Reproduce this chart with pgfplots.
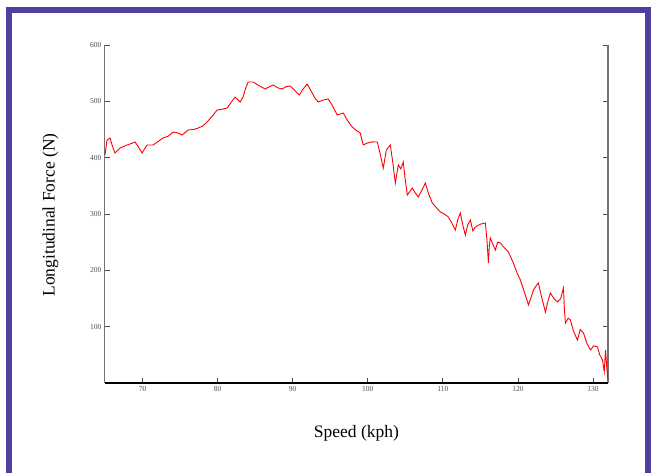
\documentclass[border=0pt]{standalone}
\usepackage{pgfplots}
\pgfplotsset{compat=1.18}
\usepackage{fontspec}
\setmainfont{Liberation Serif}
\definecolor{frame}{HTML}{4F3F9F}
\begin{document}
\begin{tikzpicture}[x=1pt,y=1pt]
\path (0,0) rectangle (654,468);
\fill[white] (0,0) rectangle (654,468);
% frame
\draw[frame,line width=6pt] (8.5,-5) -- (8.5,458) -- (648,458) -- (648,-5);
\begin{axis}[
  at={(105pt,85pt)}, anchor=south west,
  width=503pt, height=338pt, scale only axis,
  xmin=65, xmax=132, ymin=0, ymax=600,
  xtick={70,80,90,100,110,120,130},
  ytick={100,200,300,400,500,600},
  xtick pos=bottom,
  axis line style={draw=none},
  tick align=inside,
  major tick length=5pt,
  tick style={black!70, line width=0.8pt},
  ticklabel style={font=\fontsize{7.5}{8}\selectfont, text=black!70},
  /pgf/number format/assume math mode=true,
  xlabel={Speed (kph)},
  ylabel={Longitudinal Force (N)},
  label style={font=\fontsize{17.5}{20}\selectfont},
  xlabel style={yshift=-27pt},
  ylabel style={yshift=25pt, xshift=-1pt},
  clip=false,
]
\draw[black!55, line width=1pt] (rel axis cs:0,1) -- (rel axis cs:0,0);
\draw[black!55, line width=1.5pt] (rel axis cs:1,1) -- (rel axis cs:1,0);
\draw[black, line width=1.5pt] (rel axis cs:0,0) -- (rel axis cs:1,0);
\addplot[red, line width=0.9pt] coordinates {
(65.0,404.7) (65.27,431.3) (65.67,434.9) (66.0,420) (66.33,408.3) (67.0,417.1)
(67.93,422.5) (68.5,425) (69.0,427.8) (69.5,418) (69.93,408.3) (70.6,422.5) (71.4,422.5)
(72.0,428) (72.73,434.9) (73.4,438) (74.07,445.5) (74.7,444) (75.27,440.2) (76.07,449.1)
(76.8,450) (77.4,452.6) (78.0,456) (78.6,463.3) (79.3,474) (79.93,484.6) (80.6,486)
(81.27,488.1) (81.8,498) (82.33,507.7) (83.0,498.8) (83.4,507.7) (83.7,522) (84.07,534.3)
(84.73,534.3) (85.5,528) (86.33,521.9) (86.9,526) (87.4,529.0) (88.0,524) (88.6,521.9)
(89.1,526) (89.67,527.2) (90.3,519) (90.87,511.2) (91.4,522) (91.93,530.7) (92.6,514.8)
(93.0,505) (93.4,498.8) (94.0,502) (94.73,504.2) (95.3,492) (95.93,475.7) (96.73,479.3)
(97.3,466) (97.93,454.4) (98.5,448) (99.0,443.8) (99.4,422.5) (99.93,426.0)
(100.6,428) (101.27,427.8) (101.6,410) (102.07,381.6) (102.47,413.6) (103.0,422.5)
(103.3,395) (103.67,355.0) (104.07,387.0) (104.4,380) (104.73,392.3) (105.0,360)
(105.27,333.7) (105.93,346.1) (106.3,338) (106.73,330.2) (107.2,342) (107.67,355.0)
(108.1,336) (108.6,319.5) (109.1,312) (109.67,303.5) (110.2,300) (110.73,294.7)
(111.2,284) (111.67,271.6) (112.0,290) (112.33,301.8) (112.7,278) (113.0,262.7)
(113.3,280) (113.67,289.3) (114.0,270) (114.33,276.9) (115.0,282) (115.67,284.0)
(115.9,250) (116.07,213.0) (116.2,245) (116.33,257.4) (116.7,245) (117.0,236.1)
(117.3,250) (117.67,248.5) (118.2,240) (118.73,232.5) (119.0,225) (119.4,213.0)
(119.9,195) (120.33,182.8) (120.9,160) (121.4,138.5) (121.7,150) (122.07,165.1)
(122.4,172) (122.73,177.5) (123.2,150) (123.67,126.0) (124.0,145) (124.33,159.8)
(124.8,150) (125.27,143.8) (125.7,150) (126.07,168.6) (126.2,130) (126.33,106.5)
(126.7,115) (127.0,111.8) (127.4,92) (127.93,76.3) (128.3,95) (128.73,88.8) (129.2,70)
(129.67,58.6) (130.1,66) (130.6,63.9) (130.9,50) (131.27,40.8) (131.5,20) (131.67,58.6)
(131.85,25) (132.0,5.3)
};
\end{axis}
\end{tikzpicture}
\end{document}
